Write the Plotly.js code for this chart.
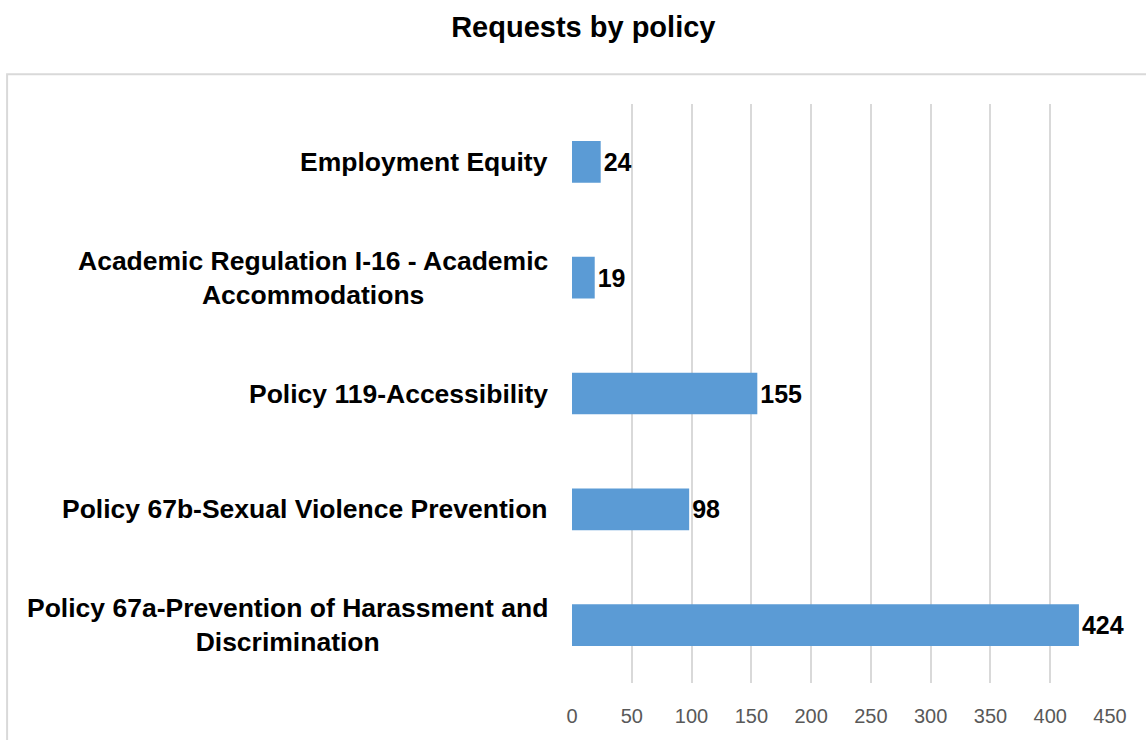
<!DOCTYPE html>
<html>
<head>
<meta charset="utf-8">
<script src="https://cdn.plot.ly/plotly-3.0.1.min.js"></script>
<style>html,body{margin:0;padding:0;background:#fff;}#chart{width:1146px;height:740px;}</style>
</head>
<body>
<div id="chart"></div>
<script>
const categories = [
  "Employment Equity",
  "Academic Regulation I-16 - Academic<br>Accommodations",
  "Policy 119-Accessibility",
  "Policy 67b-Sexual Violence Prevention",
  "Policy 67a-Prevention of Harassment and<br>Discrimination"
];
const requests = [24, 19, 155, 98, 424];
const xTicks = [0, 50, 100, 150, 200, 250, 300, 350, 400, 450];

const FONT = "Liberation Sans, Arial, sans-serif";

const trace = {
  type: "bar",
  orientation: "h",
  x: requests,
  y: categories,
  width: 0.36,
  marker: {color: "#5b9bd5", line: {width: 0}},
  text: requests.map(String),
  textposition: "outside",
  cliponaxis: false,
  textfont: {family: FONT, size: 25, color: "#000000", weight: "bold"},
  hoverinfo: "skip"
};

const annotations = categories.map(c => ({
  x: 0, xref: "paper", xshift: -22,
  y: c, yref: "y",
  text: "<b>" + c + "</b>",
  xanchor: "right", yanchor: "middle", align: "center",
  showarrow: false,
  font: {family: FONT, size: 26.5, color: "#000000"}
}));

const layout = {
  width: 1146, height: 740,
  margin: {l: 572, r: 36, t: 104, b: 57},
  paper_bgcolor: "#ffffff", plot_bgcolor: "#ffffff",
  showlegend: false,
  title: {text: "<b>Requests by policy</b>", x: 0.509, xanchor: "center", y: 0.9635, yanchor: "middle",
          font: {family: FONT, size: 29, color: "#000000"}},
  xaxis: {range: [0, 450], tickvals: xTicks, ticktext: xTicks.map(String), showgrid: true,
          gridcolor: "#d9d9d9", gridwidth: 2, zeroline: false, showline: false, ticks: "",
          ticklabelstandoff: 19,
          tickfont: {family: FONT, size: 20, color: "#595959"}, fixedrange: true},
  yaxis: {type: "category", autorange: "reversed", showticklabels: false, showgrid: false,
          zeroline: false, showline: false, ticks: "", fixedrange: true},
  annotations: annotations,
  shapes: [{type: "rect", xref: "paper", yref: "paper",
            x0: -1.050, x1: 1.08, y0: -0.12, y1: 1.0515,
            line: {color: "#d9d9d9", width: 2}, fillcolor: "rgba(0,0,0,0)", layer: "below"}]
};

Plotly.newPlot("chart", [trace], layout, {displayModeBar: false, staticPlot: true});
</script>
</body>
</html>
